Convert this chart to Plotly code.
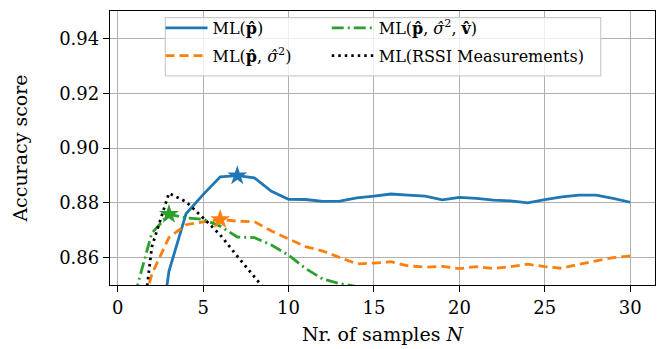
import plotly.graph_objects as go

N = list(range(1, 31))

acc_p = [0.800, 0.8095, 0.8550, 0.8760, 0.8830, 0.8895, 0.8899, 0.8891, 0.8842, 0.8813,
         0.8812, 0.8805, 0.8806, 0.8818, 0.8824, 0.8832, 0.8828, 0.8824, 0.8811, 0.8820,
         0.8816, 0.8810, 0.8807, 0.8800, 0.8812, 0.8822, 0.8828, 0.8828, 0.8816, 0.8802]

acc_p_s = [0.831, 0.8540, 0.8673, 0.8720, 0.8730, 0.8739, 0.8733, 0.8731, 0.8697, 0.8667,
           0.8640, 0.8624, 0.8600, 0.8577, 0.8580, 0.8585, 0.8570, 0.8565, 0.8568, 0.8560,
           0.8567, 0.8560, 0.8567, 0.8576, 0.8567, 0.8561, 0.8576, 0.8588, 0.8600, 0.8606]

acc_p_s_v = [0.8463, 0.8690, 0.8758, 0.8745, 0.8740, 0.8715, 0.8675, 0.8673, 0.8646, 0.8609,
             0.8560, 0.8522, 0.8505, 0.8494, 0.8488, 0.8485, 0.8483, 0.8482, 0.8480, 0.8479,
             0.8478, 0.8477, 0.8476, 0.8475, 0.8474, 0.8473, 0.8472, 0.8471, 0.8470, 0.8470]

acc_rssi = [0.8120, 0.8640, 0.8835, 0.8804, 0.8745, 0.8683, 0.8605, 0.8530, 0.8450, 0.8380,
            0.8320, 0.8270, 0.8230, 0.8200, 0.8180, 0.8160, 0.8150, 0.8140, 0.8130, 0.8120,
            0.8110, 0.8100, 0.8095, 0.8090, 0.8085, 0.8080, 0.8075, 0.8070, 0.8065, 0.8060]

names = ["ML(<b>p̂</b>)",
         "ML(<b>p̂</b>, <i>σ̂</i><sup>2</sup>)",
         "ML(<b>p̂</b>, <i>σ̂</i><sup>2</sup>, <b>v̂</b>)",
         "ML(RSSI Measurements)"]
colors = ["#1f77b4", "#ff7f0e", "#2ca02c", "#000000"]
dashes = ["solid", "9px,5px", "12px,4px,2px,4px", "2.5px,4px"]
legend_ids = ["legend", "legend", "legend2", "legend2"]
series = [acc_p, acc_p_s, acc_p_s_v, acc_rssi]
star_series = [0, 1, 2]

FONT = "DejaVu Serif"

fig = go.Figure()
for i, ys in enumerate(series):
    fig.add_trace(go.Scatter(
        x=N, y=ys, mode="lines", name=names[i], legend=legend_ids[i],
        legendgroup="g%d" % i,
        line=dict(color=colors[i], width=2.8, dash=dashes[i]),
    ))

for i in star_series:
    ys = series[i]
    k = max(range(len(ys)), key=lambda j: ys[j])
    fig.add_trace(go.Scatter(
        x=[N[k]], y=[ys[k]], mode="markers", showlegend=False,
        marker=dict(symbol="star", size=15, color=colors[i], line=dict(width=0)),
    ))

axis_common = dict(
    showline=True, linecolor="black", linewidth=1.3, mirror=True,
    ticks="outside", ticklen=6, tickwidth=1.3, tickcolor="black",
    showgrid=True, gridcolor="#b0b0b0", gridwidth=1.1, zeroline=False,
    tickfont=dict(family=FONT, size=18, color="black"),
)

leg_common = dict(orientation="v", yanchor="top", xanchor="left",
                  bgcolor="rgba(0,0,0,0)", borderwidth=0, itemwidth=42,
                  font=dict(family=FONT, size=16, color="black"), tracegroupgap=4)

fig.update_layout(
    width=667, height=349,
    margin=dict(l=102, r=20, t=3, b=72),
    paper_bgcolor="white", plot_bgcolor="white",
    font=dict(family=FONT, color="black"),
    xaxis=dict(range=[-0.45, 31.45], tickvals=[0, 5, 10, 15, 20, 25, 30],
               title=dict(text="Nr. of samples <i>N</i>", font=dict(family=FONT, size=19), standoff=10),
               **axis_common),
    yaxis=dict(range=[0.85, 0.95], tickvals=[0.86, 0.88, 0.90, 0.92, 0.94], tickformat=".2f",
               title=dict(text="Accuracy score", font=dict(family=FONT, size=19), standoff=26),
               **axis_common),
    legend=dict(x=0.0927, y=1.0, **leg_common),
    legend2=dict(x=0.3977, y=1.0, **leg_common),
    shapes=[dict(type="rect", xref="paper", yref="paper", layer="above",
                 x0=0.1015, x1=0.9004, y0=0.763, y1=0.976,
                 fillcolor="rgba(255,255,255,0.8)", line=dict(color="#cccccc", width=1.2))],
)

fig.write_html("out.html")
